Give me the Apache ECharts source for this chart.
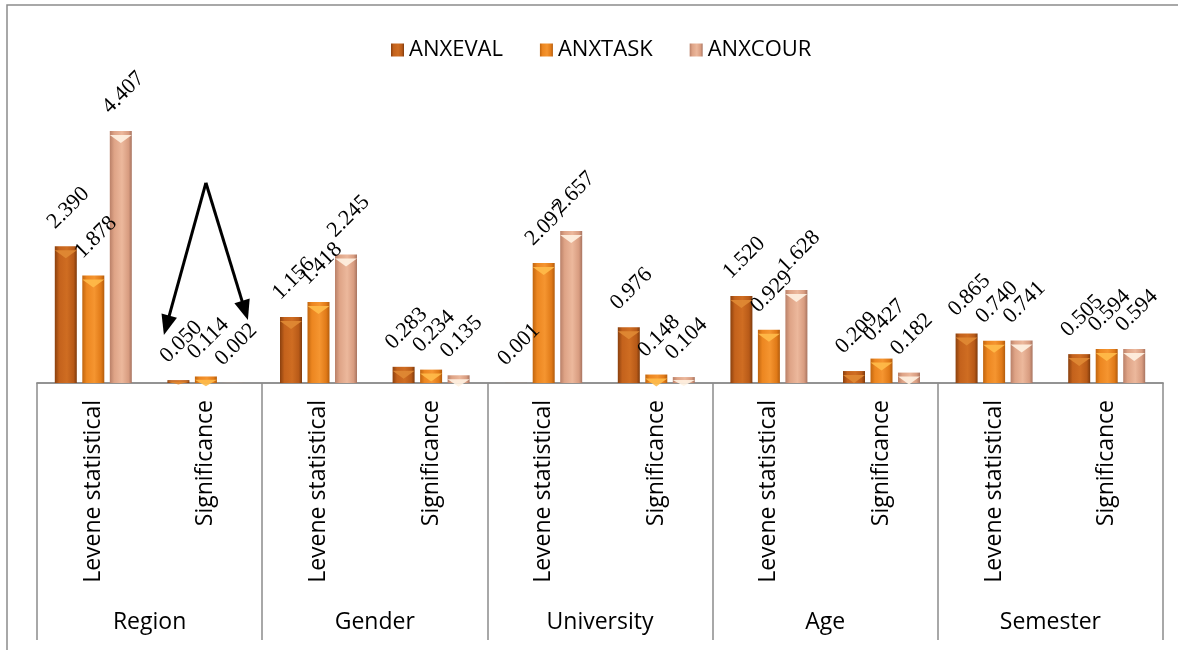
<!DOCTYPE html>
<html>
<head>
<meta charset="utf-8">
<script src="https://cdn.jsdelivr.net/npm/echarts@6/dist/echarts.min.js"></script>
<style>
html,body{margin:0;padding:0;background:#fff;}
#main{width:1178px;height:650px;}
</style>
</head>
<body>
<div id="main"></div>
<script>
var groups = ['Region', 'Gender', 'University', 'Age', 'Semester'];
var subLabels = ['Levene statistical', 'Significance', 'Levene statistical', 'Significance', 'Levene statistical', 'Significance', 'Levene statistical', 'Significance', 'Levene statistical', 'Significance'];
var seriesNames = ['ANXEVAL', 'ANXTASK', 'ANXCOUR'];
var anxeval = [2.390, 0.050, 1.156, 0.283, 0.001, 0.976, 1.520, 0.209, 0.865, 0.505];
var anxtask = [1.878, 0.114, 1.418, 0.234, 2.097, 0.148, 0.929, 0.427, 0.740, 0.594];
var anxcour = [4.407, 0.002, 2.245, 0.135, 2.657, 0.104, 1.628, 0.182, 0.741, 0.594];

var values = [anxeval, anxtask, anxcour];
var grads = [
  ['#8a400e', '#c4621c', '#cf6d22', '#b85a18', '#7e3a0c'],
  ['#c0650f', '#ec8620', '#f59530', '#e07a18', '#b35c0c'],
  ['#b98068', '#dea386', '#ecb89c', '#d89c80', '#a87460']
];
var chevron = ['#e08a34', '#ffbb4a', '#fff2e2'];

function grad(c) {
  return new echarts.graphic.LinearGradient(0, 0, 1, 0, [
    {offset: 0, color: c[0]}, {offset: 0.2, color: c[1]}, {offset: 0.55, color: c[2]},
    {offset: 0.85, color: c[3]}, {offset: 1, color: c[4]}
  ]);
}

var chart = echarts.init(document.getElementById('main'));
var series = [];
values.forEach(function (v, i) {
  series.push({
    name: seriesNames[i], type: 'bar', data: v, barWidth: 22, barGap: '25%',
    itemStyle: {color: grad(grads[i])},
    label: {
      show: true, position: [4, -13], rotate: 45, align: 'left', verticalAlign: 'bottom',
      fontFamily: '"Liberation Serif", "Times New Roman", serif', fontSize: 22, color: '#000',
      formatter: function (p) { return p.value.toFixed(3); }
    }
  });
});

var frame = {
  type: 'rect', shape: {x: 7, y: 5, width: 1200, height: 700},
  style: {fill: 'none', stroke: '#8c8c8c', lineWidth: 1.5}, silent: true
};

chart.setOption({
  animation: false,
  backgroundColor: '#fff',
  legend: {
    data: seriesNames, left: 386, top: 34, itemWidth: 13, itemHeight: 13, itemGap: 37, icon: 'rect',
    textStyle: {fontFamily: '"Open Sans", sans-serif', fontSize: 22, color: '#000'}
  },
  grid: {left: 37, right: 15, top: 97, bottom: 267},
  xAxis: [
    {
      type: 'category', data: subLabels, position: 'bottom',
      axisLine: {lineStyle: {color: '#8c8c8c', width: 1.5}},
      axisTick: {show: false},
      axisLabel: {interval: 0, rotate: 90, margin: 17, fontFamily: '"Open Sans", sans-serif', fontSize: 23, color: '#000'}
    },
    {
      type: 'category', data: groups, position: 'bottom', offset: 0,
      axisLine: {show: true, lineStyle: {color: '#8c8c8c', width: 1.5}},
      axisTick: {show: true, length: 257, lineStyle: {color: '#8c8c8c', width: 1.5}},
      axisLabel: {interval: 0, margin: 228, fontFamily: '"Open Sans", sans-serif', fontSize: 23, color: '#000'}
    }
  ],
  yAxis: {type: 'value', min: 0, max: 5, show: false, splitLine: {show: false}},
  series: series,
  graphic: [frame]
});

// chevrons at bar tops and arrows, placed through the axes' scales
var unit = chart.convertToPixel({yAxisIndex: 0}, 0) - chart.convertToPixel({yAxisIndex: 0}, 1);
var chevSeries = values.map(function (v, i) {
  return {
    name: seriesNames[i], type: 'pictorialBar', barWidth: 22, barGap: '25%',
    symbol: 'path://M0,0 L20,0 L10,8 Z', symbolPosition: 'end', symbolOffset: [0, '50%'],
    itemStyle: {color: chevron[i], opacity: 0.9}, z: 3, silent: true,
    data: v.map(function (val) {
      var h = Math.min(8, val * unit);
      return {value: val, symbolSize: [22, Math.max(h, 0.01)]};
    })
  };
});

var apex = chart.convertToPixel({xAxisIndex: 0, yAxisIndex: 0}, [1, 3.5]);
var tipL = chart.convertToPixel({xAxisIndex: 0, yAxisIndex: 0}, [1, 0.84]);
var tipR = chart.convertToPixel({xAxisIndex: 0, yAxisIndex: 0}, [1, 1.1]);
tipL[0] -= 42; tipR[0] += 42;
function arrow(a, b) {
  var dx = b[0] - a[0], dy = b[1] - a[1], len = Math.sqrt(dx * dx + dy * dy);
  var ux = dx / len, uy = dy / len, hl = 20, hw = 8;
  var base = [b[0] - ux * hl, b[1] - uy * hl];
  return [
    {type: 'line', shape: {x1: a[0], y1: a[1], x2: base[0] + ux * 2, y2: base[1] + uy * 2}, style: {stroke: '#000', lineWidth: 3}, z: 10, silent: true},
    {type: 'polygon', shape: {points: [b, [base[0] - uy * hw, base[1] + ux * hw], [base[0] + uy * hw, base[1] - ux * hw]]}, style: {fill: '#000'}, z: 10, silent: true}
  ];
}
chart.setOption({
  series: series.concat(chevSeries),
  graphic: [frame].concat(arrow(apex, tipL), arrow(apex, tipR))
});
</script>
</body>
</html>
